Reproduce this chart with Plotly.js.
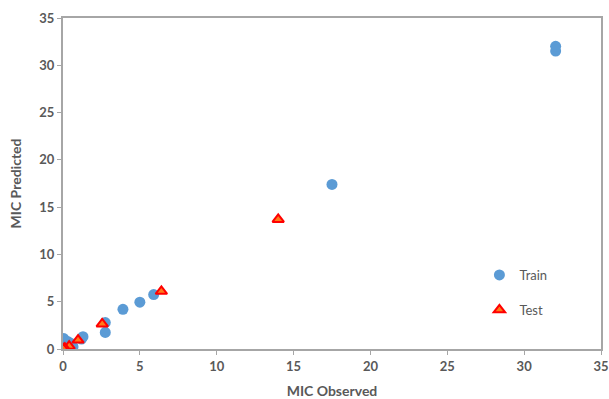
<!DOCTYPE html>
<html>
<head>
<meta charset="utf-8">
<script src="https://cdn.plot.ly/plotly-3.0.1.min.js"></script>
<style>html,body{margin:0;padding:0;background:#fff;}#chart{width:609px;height:399px;}</style>
</head>
<body>
<div id="chart"></div>
<script>
const trainObserved = [32.05, 32.05, 17.5, 5.9, 5.0, 3.9, 2.75, 2.75, 1.3, 1.2, 0.05, 0.5, 0.65, 0.1, 0.3];
const trainPredicted = [31.5, 32.0, 17.4, 5.75, 4.95, 4.2, 2.8, 1.75, 1.3, 1.05, 1.1, 0.6, 0.25, 0.0, 0.8];
const testObserved = [14.0, 6.4, 2.55, 0.98, 0.4, 0.12, 0.02];
const testPredicted = [13.7, 6.1, 2.65, 0.95, 0.3, 0.08, 0.0];
const tickVals = [0, 5, 10, 15, 20, 25, 30, 35];

const gray = '#595959';
const axisColor = '#A6A6A6';
const font = 'Lato, "Open Sans", sans-serif';

const traces = [
  {x: trainObserved, y: trainPredicted, name: 'Train', type: 'scatter', mode: 'markers', legendgroup: 'a',
   marker: {symbol: 'circle', size: 11, color: '#5B9BD5', line: {width: 0}}},
  {x: testObserved, y: testPredicted, name: 'Test', type: 'scatter', mode: 'markers', legendgroup: 'b',
   marker: {symbol: 'triangle-up', size: 10, color: '#FF7A1A', line: {width: 2, color: '#FF0000'}}}
];

const axisCommon = {
  range: [0, 35], tickvals: tickVals, showgrid: false, zeroline: false,
  showline: true, linecolor: axisColor, linewidth: 2, mirror: true,
  ticks: 'outside', ticklen: 4, tickcolor: axisColor, tickwidth: 1,
  tickfont: {family: font, size: 13, color: gray, weight: 'bold'}
};

const layout = {
  width: 609, height: 399,
  margin: {l: 63, r: 8, t: 18, b: 50},
  paper_bgcolor: '#fff', plot_bgcolor: '#fff',
  showlegend: true,
  legend: {x: 0.774, y: 0.269, xanchor: 'left', yanchor: 'top', tracegroupgap: 15, traceorder: 'grouped',
           font: {family: font, size: 13, color: gray}, bgcolor: 'rgba(0,0,0,0)'},
  xaxis: Object.assign({}, axisCommon, {
    title: {text: 'MIC Observed', standoff: 16, font: {family: font, size: 14, color: gray, weight: 'bold'}}
  }),
  yaxis: Object.assign({}, axisCommon, {
    title: {text: 'MIC Predicted', standoff: 14, font: {family: font, size: 14, color: gray, weight: 'bold'}}
  })
};

Plotly.newPlot('chart', traces, layout, {displayModeBar: false, staticPlot: true});
</script>
</body>
</html>
